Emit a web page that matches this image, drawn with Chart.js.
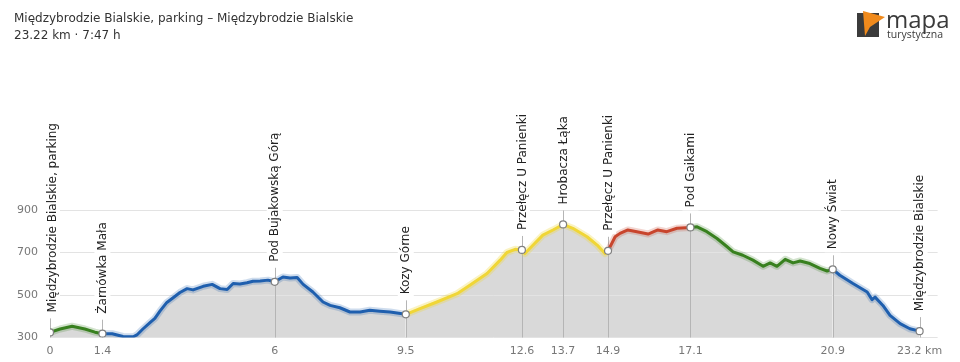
<!DOCTYPE html>
<html>
<head>
<meta charset="utf-8">
<script src="https://cdn.jsdelivr.net/npm/chart.js@4.4.1/dist/chart.umd.min.js"></script>
<style>
  html, body { margin: 0; padding: 0; background: #fff; overflow: hidden; }
  #wrap { position: relative; width: 960px; height: 362px; }
  #chart { position: absolute; left: 0; top: 0; }
  #title { position: absolute; left: 14px; top: 10px; font-family: "DejaVu Sans", sans-serif; font-size: 12px; line-height: 17px; color: #333; white-space: nowrap; }
  #logo { position: absolute; left: 855px; top: 8px; width: 100px; height: 34px; }
  #logo .m { position: absolute; left: 31px; top: -6px; font-family: "Open Sans", "DejaVu Sans", sans-serif; font-size: 24px; color: #3a3a3a; letter-spacing: 0px; }
  #logo .t { position: absolute; left: 32px; top: 19px; font-family: "Open Sans", "DejaVu Sans", sans-serif; font-size: 10.5px; color: #3a3a3a; }
</style>
</head>
<body>
<div id="wrap">
  <canvas id="chart" width="960" height="362"></canvas>
  <div id="title">Międzybrodzie Bialskie, parking – Międzybrodzie Bialskie<br>23.22 km · 7:47 h</div>
  <div id="logo">
    <svg width="30" height="30" style="position:absolute;left:0;top:2px" viewBox="0 0 30 30">
      <rect x="2" y="3" width="22" height="24" fill="#3b3b3b"/>
      <polygon points="8,1 30,7 15,17 10,26" fill="#f08a1c"/>
    </svg>
    <span class="m">mapa</span>
    <span class="t">turystyczna</span>
  </div>
</div>
<script>
// ---- data ----
const distanceKm = [0,0.27,0.59,0.93,1.20,1.4,1.66,1.95,2.22,2.32,2.48,2.67,2.80,2.94,3.12,3.28,3.47,3.66,3.82,4.09,4.33,4.54,4.73,4.89,5.07,5.26,5.42,5.61,5.82,6.0,6.22,6.41,6.60,6.76,7.02,7.29,7.48,7.74,8.01,8.28,8.54,8.81,9.08,9.5,9.88,10.33,10.87,11.21,11.67,12.02,12.2,12.42,12.6,12.68,12.9,13.16,13.43,13.7,13.96,14.34,14.61,14.82,14.9,15.09,15.22,15.43,15.67,15.97,16.23,16.47,16.74,17.1,17.28,17.54,17.81,18.08,18.24,18.50,18.77,19.04,19.23,19.41,19.63,19.84,20.03,20.29,20.56,20.75,20.9,21.09,21.44,21.82,21.95,22.03,22.24,22.43,22.70,22.96,23.22];
const elevationM = [324,340,353,340,325,318,318,305,303,312,340,370,390,425,465,486,512,530,524,541,550,530,526,554,552,558,565,566,570,562,585,580,582,550,514,467,451,440,420,420,428,424,420,409,436,467,506,546,601,664,700,715,712,695,735,782,806,832,814,774,735,695,708,774,790,806,798,787,806,798,814,818,821,798,766,727,703,687,664,635,651,635,668,651,660,648,625,613,621,593,554,514,478,490,451,404,365,341,330];

const waypointNames = ["Międzybrodzie Bialskie, parking","Żarnówka Mała","Pod Bujakowską Górą","Kozy Górne","Przełęcz U Panienki","Hrobacza Łąka","Przełęcz U Panienki","Pod Gaikami","Nowy Świat","Międzybrodzie Bialskie"];
const waypointKm = [0,1.4,6.0,9.5,12.6,13.7,14.9,17.1,20.9,23.22];
const waypointElev = [324,318,562,409,712,832,708,818,621,330];

const xTickLabels = ["0","1.4","6","9.5","12.6","13.7","14.9","17.1","20.9","23.2 km"];
const yTickValues = [300,500,700,900];

const segmentBreaksKm = [0,1.4,9.5,14.9,17.1,20.9];
const segmentColors = ["#38801f","#1f5fae","#f0d637","#c8452d","#38801f","#1f5fae"];
const segmentHalo = ["rgba(56,128,31,0.22)","rgba(31,95,174,0.22)","rgba(240,214,55,0.3)","rgba(200,69,45,0.22)","rgba(56,128,31,0.22)","rgba(31,95,174,0.22)"];

// ---- helpers ----
function segIndex(km){
  let idx = 0;
  for (let i = 0; i < segmentBreaksKm.length; i++) if (km >= segmentBreaksKm[i] - 1e-9) idx = i;
  return idx;
}
const profile = distanceKm.map((d,i)=>({x:d, y:elevationM[i]}));
const waypoints = waypointKm.map((d,i)=>({x:d, y:waypointElev[i]}));

const waypointPlugin = {
  id: 'waypoints',
  beforeDatasetsDraw(chart){
    const {ctx, scales:{x, y}} = chart;
    ctx.save();
    ctx.strokeStyle = '#b5b5b5';
    ctx.lineWidth = 1;
    waypointKm.forEach((km,i)=>{
      const px = Math.round(x.getPixelForValue(km)) + 0.5;
      const py = y.getPixelForValue(waypointElev[i]);
      ctx.beginPath();
      ctx.moveTo(px, y.bottom);
      ctx.lineTo(px, py - 14);
      ctx.stroke();
    });
    ctx.restore();
  },
  afterDatasetsDraw(chart){
    const {ctx, scales:{x, y}} = chart;
    ctx.save();
    ctx.font = '12px "DejaVu Sans"';
    waypointNames.forEach((name,i)=>{
      const px = x.getPixelForValue(waypointKm[i]) + (i === 0 ? 2 : 0);
      const py = y.getPixelForValue(waypointElev[i]);
      const w = ctx.measureText(name).width;
      ctx.save();
      ctx.translate(px, py - 20);
      ctx.rotate(-Math.PI/2);
      ctx.fillStyle = '#fff';
      ctx.fillRect(-3, -8, w + 6, 16);
      ctx.fillStyle = '#222';
      ctx.textAlign = 'left';
      ctx.textBaseline = 'middle';
      ctx.fillText(name, 0, 0.5);
      ctx.restore();
    });
    ctx.restore();
  }
};

new Chart(document.getElementById('chart'), {
  type: 'line',
  data: {
    datasets: [
      {
        data: waypoints,
        showLine: false,
        pointRadius: 3.5,
        pointBackgroundColor: '#fff',
        pointBorderColor: '#808080',
        pointBorderWidth: 1.2,
        order: 0
      },
      {
        data: profile,
        borderWidth: 3,
        pointRadius: 0,
        tension: 0,
        borderJoinStyle: 'round',
        borderCapStyle: 'round',
        fill: 'start',
        backgroundColor: '#d9d9d9',
        segment: { borderColor: c => segmentColors[segIndex(c.p0.parsed.x)] },
        order: 1
      },
      {
        data: profile,
        borderWidth: 7,
        pointRadius: 0,
        tension: 0,
        borderJoinStyle: 'round',
        fill: false,
        segment: { borderColor: c => segmentHalo[segIndex(c.p0.parsed.x)] },
        order: 2
      }
    ]
  },
  options: {
    responsive: false,
    animation: false,
    devicePixelRatio: 1,
    layout: { padding: { top: 50, right: 22.4, left: 0, bottom: 0 } },
    plugins: {
      legend: { display: false },
      tooltip: { enabled: false },
      filler: { drawTime: 'beforeDraw' }
    },
    scales: {
      x: {
        type: 'linear',
        min: 0,
        max: 23.7,
        afterBuildTicks: s => { s.ticks = waypointKm.map(v => ({value: v})); },
        afterFit: s => { s.height = 24.5; },
        grid: { display: false, drawTicks: false },
        border: { display: false },
        ticks: {
          autoSkip: false,
          maxRotation: 0,
          padding: 7,
          color: '#777',
          font: { family: 'DejaVu Sans', size: 11 },
          callback: (v, i) => xTickLabels[i]
        }
      },
      y: {
        min: 300,
        max: 1653,
        afterBuildTicks: s => { s.ticks = yTickValues.map(v => ({value: v})); },
        afterFit: s => { s.width = 50; },
        grid: { color: '#e3e3e3', lineWidth: 1, drawTicks: false },
        border: { display: false },
        ticks: {
          padding: 12,
          color: '#777',
          font: { family: 'DejaVu Sans', size: 11 }
        }
      }
    }
  },
  plugins: [waypointPlugin]
});
</script>
</body>
</html>
